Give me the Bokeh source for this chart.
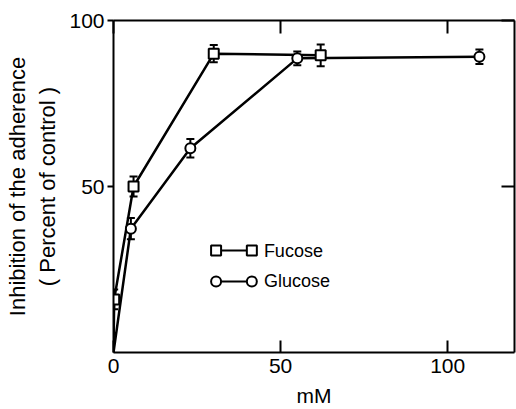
from bokeh.plotting import figure
from bokeh.models import Range1d, LinearAxis, FixedTicker, ColumnDataSource, Whisker, TeeHead, Label
from bokeh.embed import file_html
from bokeh.resources import INLINE

# ---- data ----
fucose_x = [0.2, 6, 30, 62]
fucose_y = [16, 50, 90, 89.5]
fucose_err = [3, 3, 2.6, 3.3]

glucose_x = [5.2, 23, 55, 109.5]
glucose_y = [37.3, 61.5, 88.6, 89.1]
glucose_err = [3.2, 2.8, 2.1, 2.2]

origin_x = [0]
origin_y = [0]

x_ticks = [0, 50, 100]
y_ticks = [50, 100]
series_names = ["Fucose", "Glucose"]

FONT = "Liberation Sans"

p = figure(width=516, height=409, output_backend="svg", toolbar_location=None,
           x_range=Range1d(0, 120), y_range=Range1d(0, 100),
           min_border_left=113, min_border_right=2, min_border_top=20, min_border_bottom=52,
           x_axis_location=None, y_axis_location=None)
p.xgrid.visible = False
p.ygrid.visible = False
p.outline_line_color = None
p.background_fill_color = "white"
p.border_fill_color = "white"

def style_axis(ax, tick_in, tick_out, show_labels):
    ax.axis_line_width = 2
    ax.axis_line_color = "black"
    ax.major_tick_line_width = 2
    ax.major_tick_line_color = "black"
    ax.major_tick_in = tick_in
    ax.major_tick_out = tick_out
    ax.minor_tick_line_color = None
    if show_labels:
        ax.major_label_text_font = FONT
        ax.major_label_text_font_size = "21px"
        ax.major_label_text_color = "black"
    else:
        ax.major_label_text_font_size = "0px"
        ax.major_label_text_alpha = 0

xb = LinearAxis(ticker=FixedTicker(ticks=x_ticks))
style_axis(xb, 12, 0, True)
xb.major_label_standoff = 6
xb.axis_label = "mM"
xb.axis_label_text_font = FONT
xb.axis_label_text_font_size = "21px"
xb.axis_label_text_font_style = "normal"
xb.axis_label_text_color = "black"
xb.axis_label_standoff = 8
p.add_layout(xb, "below")

yl = LinearAxis(ticker=FixedTicker(ticks=y_ticks))
style_axis(yl, 0, 6, True)
yl.major_label_standoff = 3
yl.axis_label = "Inhibition of the adherence\n( Percent of control )"
yl.axis_label_text_font = FONT
yl.axis_label_text_font_size = "22px"
yl.axis_label_text_font_style = "normal"
yl.axis_label_text_color = "black"
yl.axis_label_standoff = 6
p.add_layout(yl, "left")

xt = LinearAxis(ticker=FixedTicker(ticks=x_ticks))
style_axis(xt, 13, 0, False)
p.add_layout(xt, "above")

yr = LinearAxis(ticker=FixedTicker(ticks=y_ticks))
style_axis(yr, 13, 0, False)
p.add_layout(yr, "right")

# ---- curves ----
p.line(origin_x + fucose_x, origin_y + fucose_y, line_color="black", line_width=2.5)
p.line(origin_x + glucose_x, origin_y + glucose_y, line_color="black", line_width=2.5)

# ---- error bars ----
for xs, ys, es in [(fucose_x, fucose_y, fucose_err), (glucose_x, glucose_y, glucose_err)]:
    src = ColumnDataSource(dict(x=xs, lo=[y - e for y, e in zip(ys, es)], hi=[y + e for y, e in zip(ys, es)]))
    w = Whisker(base="x", lower="lo", upper="hi", source=src, line_width=2, line_color="black",
                upper_head=TeeHead(size=8, line_width=2), lower_head=TeeHead(size=8, line_width=2),
                level="underlay")
    p.add_layout(w)

p.scatter(fucose_x, fucose_y, marker="square", size=10, fill_color="white", line_color="black", line_width=2)
p.scatter(glucose_x, glucose_y, marker="circle", size=10, fill_color="white", line_color="black", line_width=2)

# ---- legend (drawn by hand like the original) ----
leg_x0, leg_x1, leg_tx = 30.7, 41.4, 45.0
leg_y = [30.7, 21.4]
leg_markers = ["square", "circle"]
for name, yy, mk in zip(series_names, leg_y, leg_markers):
    p.line([leg_x0, leg_x1], [yy, yy], line_color="black", line_width=2)
    p.scatter([leg_x0, leg_x1], [yy, yy], marker=mk, size=10, fill_color="white", line_color="black", line_width=2)
    p.add_layout(Label(x=leg_tx, y=yy, text=name, text_font=FONT, text_font_size="18px",
                       text_baseline="middle", text_align="left", text_color="black"))

open("out.html", "w").write(file_html(p, INLINE))
